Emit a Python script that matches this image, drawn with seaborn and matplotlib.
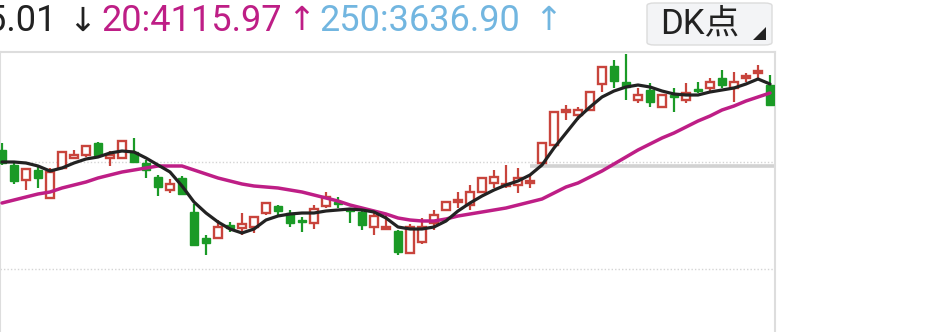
import numpy as np
import pandas as pd
import matplotlib
matplotlib.use("Agg")
import matplotlib.pyplot as plt
from matplotlib.patches import FancyBboxPatch, Polygon
import seaborn as sns

# ---- data ----
opens = [4002, 3972, 3942, 3962, 3906, 3966, 3986, 3992, 4016, 3986,
         3986, 3998, 3976, 3948, 3922, 3946, 3878, 3826, 3826, 3852,
         3846, 3848, 3876, 3890, 3876, 3862, 3856, 3890, 3898, 3884,
         3878, 3848, 3844, 3840, 3796, 3818, 3856, 3882, 3898, 3892,
         3918, 3936, 3930, 3932, 3936, 3976, 4012, 4078, 4072, 4082,
         4134, 4170, 4138, 4102, 4122, 4088, 4112, 4102, 4124, 4126,
         4146, 4126, 4146, 4156, 4132]
closes = [3976, 3940, 3964, 3946, 3958, 3998, 3992, 4010, 3992, 3992,
          4020, 3978, 3962, 3928, 3934, 3914, 3812, 3816, 3848, 3846,
          3854, 3868, 3896, 3880, 3856, 3858, 3884, 3908, 3894, 3880,
          3852, 3870, 3848, 3798, 3848, 3848, 3872, 3898, 3902, 3918,
          3946, 3948, 3934, 3946, 3940, 4016, 4078, 4082, 4082, 4118,
          4168, 4140, 4128, 4112, 4098, 4112, 4108, 4116, 4120, 4138,
          4132, 4138, 4150, 4160, 4092]
highs = [4016, 3978, 3966, 3972, 3966, 4000, 4002, 4010, 4018, 4000,
         4022, 4026, 3982, 3952, 3944, 3950, 3894, 3832, 3862, 3858,
         3876, 3870, 3896, 3892, 3882, 3868, 3892, 3918, 3908, 3886,
         3882, 3876, 3876, 3842, 3854, 3866, 3882, 3898, 3918, 3932,
         3948, 3962, 3972, 3966, 3952, 4016, 4078, 4092, 4088, 4118,
         4168, 4182, 4194, 4126, 4136, 4112, 4126, 4136, 4138, 4146,
         4162, 4158, 4156, 4172, 4152]
lows = [3972, 3934, 3922, 3926, 3906, 3966, 3986, 3988, 3986, 3970,
        3986, 3978, 3946, 3910, 3916, 3912, 3812, 3792, 3826, 3838,
        3832, 3836, 3872, 3870, 3848, 3838, 3844, 3886, 3886, 3856,
        3842, 3832, 3844, 3792, 3794, 3814, 3842, 3880, 3886, 3882,
        3916, 3926, 3926, 3916, 3926, 3972, 4012, 4062, 4062, 4082,
        4118, 4126, 4102, 4096, 4088, 4088, 4078, 4096, 4116, 4118,
        4126, 4098, 4138, 4146, 4092]
ma5 = [3978, 3978, 3976, 3970, 3960, 3966, 3976, 3984, 3988, 3996,
       4000, 3998, 3986, 3972, 3958, 3930, 3898, 3876, 3858, 3844,
       3836, 3844, 3862, 3870, 3874, 3876, 3876, 3880, 3882, 3884,
       3882, 3878, 3866, 3848, 3844, 3844, 3848, 3860, 3880, 3896,
       3910, 3922, 3932, 3940, 3952, 3972, 4006, 4036, 4066, 4088,
       4108, 4120, 4128, 4132, 4128, 4120, 4114, 4112, 4112, 4118,
       4122, 4126, 4134, 4144, 4134]
ma20 = [3896, 3902, 3908, 3914, 3918, 3926, 3932, 3938, 3946, 3952,
        3958, 3962, 3966, 3970, 3970, 3970, 3962, 3954, 3946, 3940,
        3934, 3930, 3928, 3926, 3922, 3918, 3912, 3906, 3900, 3892,
        3886, 3880, 3874, 3866, 3862, 3860, 3860, 3864, 3870, 3874,
        3878, 3882, 3886, 3892, 3898, 3904, 3916, 3928, 3936, 3948,
        3960, 3974, 3988, 4002, 4014, 4026, 4036, 4048, 4060, 4070,
        4082, 4090, 4100, 4108, 4116]
grid_levels = [3978, 3764, 3550]
ref_level = 3970
ref_start = 44

header_ma5 = "5:4135.01"
header_ma20 = "20:4115.97"
header_ma250 = "250:3636.90"
button_label = "DK点"

# ---- style ----
sns.set_style("white")
plt.rcParams["font.family"] = ["Roboto", "DejaVu Sans", "Noto Sans CJK SC"]

RED = "#C8443C"
GREEN = "#1A9A26"
MAG = "#BE1E86"
BLUE = "#72B6E0"
DARK = "#222222"

W, H = 940, 332
fig = plt.figure(figsize=(W / 100, H / 100), dpi=100)
ax_top, ax_bot, ax_right = 52, 380, 775
ax = fig.add_axes([0, (H - ax_bot) / H, ax_right / W, (ax_bot - ax_top) / H])

n = len(closes)
idx = np.arange(n)
df = pd.DataFrame({"i": idx, "open": opens, "close": closes,
                   "high": highs, "low": lows, "ma5": ma5, "ma20": ma20})

px_per_unit = 12.0
ax.set_xlim(-2 / px_per_unit, -2 / px_per_unit + ax_right / px_per_unit)
ax.set_ylim(4302 - 2 * ax_bot, 4302 - 2 * ax_top)

# grid
for g in grid_levels:
    ax.axhline(g, color="#D4D4D4", lw=1.0, ls=(0, (1, 1.5)), zorder=0)
ax.plot([ref_start, ax.get_xlim()[1]], [ref_level, ref_level],
        color="#D2D2D2", lw=2.6, zorder=0.5, solid_capstyle="butt")

# candles
bw = 0.72
for _, r in df.iterrows():
    is_up = r["close"] >= r["open"]
    col = RED if is_up else GREEN
    ax.vlines(r["i"], r["low"], r["high"], color=col, lw=1.6, zorder=2)
    lo = min(r["open"], r["close"])
    hgt = max(abs(r["close"] - r["open"]), 1.5)
    if is_up:
        ax.bar(r["i"], hgt, bottom=lo, width=bw, facecolor="white",
               edgecolor=col, linewidth=1.7, zorder=3)
    else:
        ax.bar(r["i"], hgt, bottom=lo, width=bw, facecolor=col,
               edgecolor=col, linewidth=1.0, zorder=3)

# moving averages
sns.lineplot(data=df, x="i", y="ma20", ax=ax, color=MAG, lw=2.5, zorder=4)
sns.lineplot(data=df, x="i", y="ma5", ax=ax, color=DARK, lw=2.3, zorder=5)

ax.set_xticks([])
ax.set_yticks([])
ax.set_xlabel("")
ax.set_ylabel("")
for s in ["top", "right", "left"]:
    ax.spines[s].set_color("#DDDDDD")
    ax.spines[s].set_linewidth(1.5)
ax.spines["bottom"].set_visible(False)

# header texts
fs = 26
ty = 1 - 21 / H
fig.text(57 / W, ty, header_ma5, color=DARK, fontsize=fs, ha="right", va="center")
fig.text(68 / W, ty, "↓", color=DARK, fontsize=fs - 2, ha="left", va="center",
         family=["DejaVu Sans"])
fig.text(101 / W, ty, header_ma20, color=MAG, fontsize=fs, ha="left", va="center")
fig.text(287 / W, ty, "↑", color=MAG, fontsize=fs - 2, ha="left", va="center",
         family=["DejaVu Sans"])
fig.text(319 / W, ty, header_ma250, color=BLUE, fontsize=fs, ha="left", va="center")
fig.text(534 / W, ty, "↑", color=BLUE, fontsize=fs - 2, ha="left", va="center",
         family=["DejaVu Sans"])

# button
bx0, by0, bx1, by1 = 647, 3, 772, 45
box = FancyBboxPatch((bx0 / W, 1 - by1 / H), (bx1 - bx0) / W, (by1 - by0) / H,
                     boxstyle="round,pad=0,rounding_size=0.008",
                     transform=fig.transFigure, facecolor="#F3F4F6",
                     edgecolor="#DCDCDC", lw=1.0)
fig.add_artist(box)
fig.text(660 / W, 1 - 24 / H, button_label, color=DARK, fontsize=25,
         ha="left", va="center", family=["Roboto", "Noto Sans CJK SC"])
tri = Polygon([(766 / W, 1 - 27 / H), (766 / W, 1 - 40 / H), (753 / W, 1 - 40 / H)],
              closed=True, transform=fig.transFigure, facecolor=DARK, edgecolor="none")
fig.add_artist(tri)

fig.savefig("out.png", dpi=100)
